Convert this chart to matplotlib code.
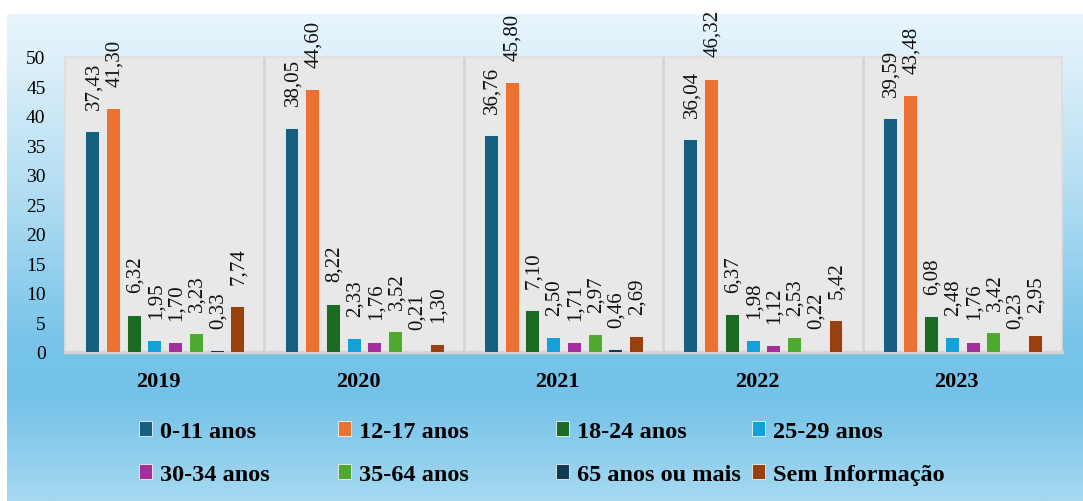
import numpy as np
import matplotlib
matplotlib.use("Agg")
import matplotlib.pyplot as plt
from matplotlib.colors import LinearSegmentedColormap

plt.rcParams['font.family'] = ['Liberation Serif', 'DejaVu Serif']

# Data: percent by age group and year
years = ["2019", "2020", "2021", "2022", "2023"]
groups = ["0-11 anos", "12-17 anos", "18-24 anos", "25-29 anos",
          "30-34 anos", "35-64 anos", "65 anos ou mais", "Sem Informação"]
v_0_11 = [37.43, 38.05, 36.76, 36.04, 39.59]
v_12_17 = [41.30, 44.60, 45.80, 46.32, 43.48]
v_18_24 = [6.32, 8.22, 7.10, 6.37, 6.08]
v_25_29 = [1.95, 2.33, 2.50, 1.98, 2.48]
v_30_34 = [1.70, 1.76, 1.71, 1.12, 1.76]
v_35_64 = [3.23, 3.52, 2.97, 2.53, 3.42]
v_65 = [0.33, 0.21, 0.46, 0.22, 0.23]
v_sem = [7.74, 1.30, 2.69, 5.42, 2.95]
series = [v_0_11, v_12_17, v_18_24, v_25_29, v_30_34, v_35_64, v_65, v_sem]
colors = ["#175f80", "#ec7233", "#1b6b24", "#14a0d8",
          "#a3309a", "#4fa92f", "#0f3a52", "#99400f"]

fig = plt.figure(figsize=(10.83, 5.02), dpi=100)

# gradient background
bg = fig.add_axes([7 / 1083, 0, 1 - 7 / 1083, 487 / 502], zorder=-5)
cmap = LinearSegmentedColormap.from_list("bg", [
    (0.0, "#e8f5fc"), (0.09, "#ddf0fa"), (0.38, "#b0dcf2"),
    (0.67, "#78c4e9"), (0.79, "#74c2e8"), (1.0, "#a6d9f1")])
bg.imshow(np.linspace(0, 1, 256).reshape(-1, 1), aspect="auto", cmap=cmap,
          extent=[0, 1, 0, 1])
bg.axis("off")

ax = fig.add_axes([65 / 1083, 149 / 502, 997 / 1083, 295 / 502])
ax.set_facecolor("#e8e8e8")

x = np.arange(len(years))
step = 0.104
width = 0.07
bars = []
for k, vals in enumerate(series):
    b = ax.bar(x + (k - 3.5) * step, vals, width, color=colors[k],
               edgecolor="#f2f2f2", linewidth=0.6, label=groups[k], zorder=3)
    bars.append(b)
    for rect, v in zip(b, vals):
        ax.annotate(f"{v:.2f}".replace(".", ","),
                    (rect.get_x() + rect.get_width() / 2, rect.get_height()),
                    xytext=(1, 16), textcoords="offset points",
                    rotation=90, ha="center", va="bottom", fontsize=15,
                    color="#111111")

for sep in x[:-1] + 0.5:
    ax.axvline(sep, color="#d6d6d6", lw=2, zorder=1)

ax.set_xlim(-0.5, len(years) - 0.5)
ax.set_ylim(0, 50)
ax.set_yticks(range(0, 51, 5))
ax.set_xticks(x - 0.03)
ax.set_xticklabels(years, fontsize=16, fontweight="bold")
ax.tick_params(axis="y", length=0, pad=14, labelsize=14)
ax.tick_params(axis="x", length=0, pad=14)
for s in ["left", "right", "top"]:
    ax.spines[s].set_color("#dedede")
    ax.spines[s].set_linewidth(1.2)
ax.spines["bottom"].set_color("#d4d4d4")
ax.spines["bottom"].set_linewidth(2.5)

# legend in four columns placed like the original
col_x = [117, 316, 534, 730]
for j in range(4):
    fig.legend([bars[j], bars[j + 4]], [groups[j], groups[j + 4]],
               loc="upper left", bbox_to_anchor=(col_x[j] / 1083, 1 - 400 / 502),
               frameon=False, handlelength=0.56, handleheight=0.56,
               handletextpad=0.3, labelspacing=0.93,
               prop={"size": 17.5, "weight": "bold"})

fig.savefig("out.png", dpi=100)
